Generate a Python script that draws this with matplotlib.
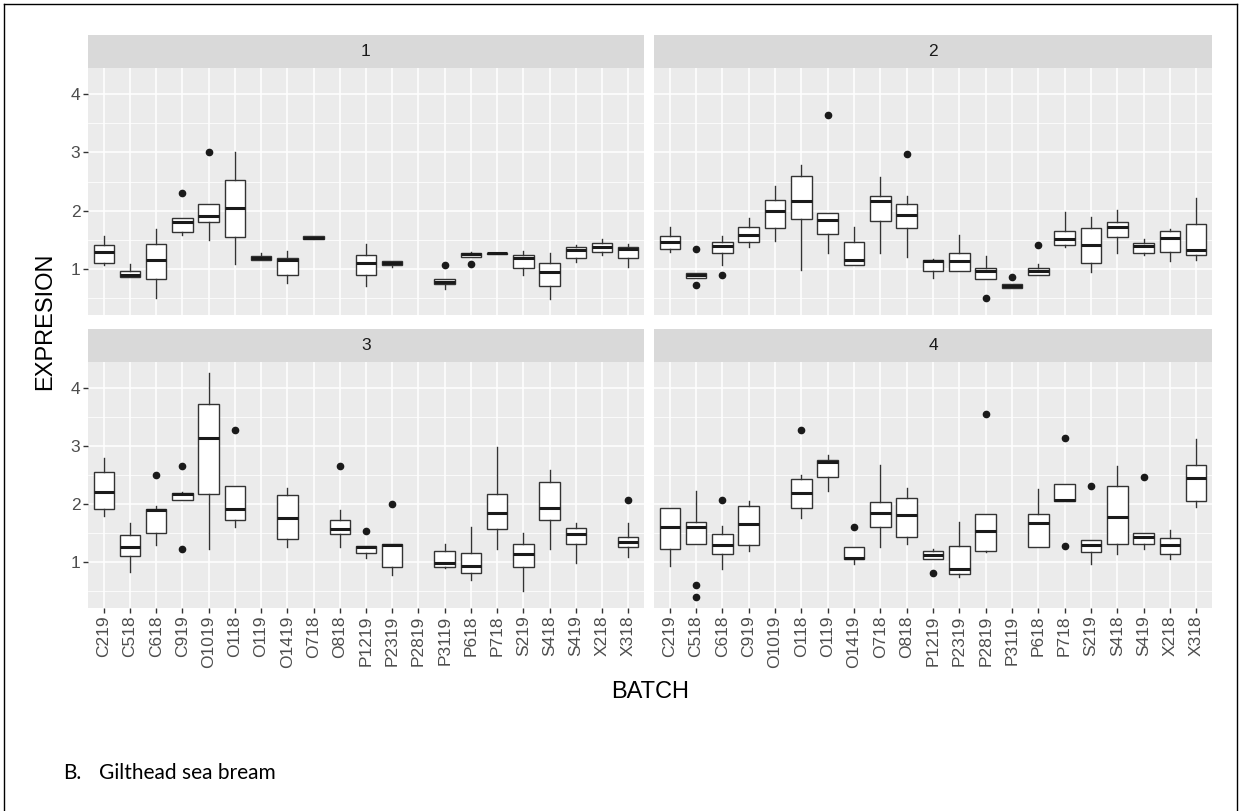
import matplotlib
matplotlib.use("Agg")
import matplotlib.pyplot as plt
from matplotlib.lines import Line2D

CATEGORIES = ["C219", "C518", "C618", "C919", "O1019", "O118", "O119", "O1419",
              "O718", "O818", "P1219", "P2319", "P2819", "P3119", "P618", "P718",
              "S219", "S418", "S419", "X218", "X318"]
PANELS = ["1", "2", "3", "4"]
Y_TICKS = [1, 2, 3, 4]

# Panel 1 : whisker low, Q1, median, Q3, whisker high (None = no data)
P1_LO  = [1.06, 0.86, 0.51, 1.58, 1.50, 1.08, 1.15, 0.76, 1.52, None, 0.71, 1.03, None, 0.65, 1.21, 1.25, 0.90, 0.49, 1.12, 1.24, 1.04]
P1_Q1  = [1.10, 0.86, 0.83, 1.64, 1.80, 1.55, 1.15, 0.90, 1.52, None, 0.90, 1.06, None, 0.74, 1.21, 1.25, 1.01, 0.70, 1.19, 1.29, 1.19]
P1_MED = [1.29, 0.90, 1.16, 1.80, 1.91, 2.04, 1.19, 1.16, 1.54, None, 1.10, 1.11, None, 0.77, 1.26, 1.27, 1.18, 0.94, 1.33, 1.37, 1.34]
P1_Q3  = [1.41, 0.97, 1.43, 1.87, 2.12, 2.53, 1.22, 1.18, 1.56, None, 1.24, 1.13, None, 0.82, 1.28, 1.28, 1.24, 1.11, 1.38, 1.45, 1.38]
P1_HI  = [1.56, 1.08, 1.69, 1.87, 2.12, 3.00, 1.27, 1.31, 1.56, None, 1.43, 1.14, None, 0.83, 1.30, 1.28, 1.31, 1.27, 1.41, 1.52, 1.43]
P1_OUT = [[], [], [], [2.30], [3.00], [], [], [], [], [], [], [], [], [1.06], [1.08], [], [], [], [], [], []]

# Panel 2
P2_LO  = [1.30, 0.84, 1.07, 1.38, 1.48, 0.98, 1.28, 1.06, 1.28, 1.21, 0.84, 0.97, 0.83, 0.67, 0.90, 1.37, 0.94, 1.28, 1.24, 1.14, 1.16]
P2_Q1  = [1.35, 0.84, 1.28, 1.46, 1.71, 1.85, 1.60, 1.06, 1.82, 1.71, 0.97, 0.97, 0.83, 0.67, 0.90, 1.42, 1.10, 1.55, 1.28, 1.30, 1.24]
P2_MED = [1.47, 0.89, 1.39, 1.59, 1.99, 2.16, 1.84, 1.16, 2.16, 1.93, 1.13, 1.14, 0.97, 0.71, 0.97, 1.52, 1.42, 1.72, 1.39, 1.54, 1.32]
P2_Q3  = [1.56, 0.93, 1.46, 1.72, 2.18, 2.60, 1.96, 1.47, 2.26, 2.12, 1.15, 1.27, 1.02, 0.75, 1.02, 1.65, 1.70, 1.81, 1.45, 1.65, 1.77]
P2_HI  = [1.72, 0.93, 1.56, 1.87, 2.42, 2.79, 1.96, 1.72, 2.58, 2.26, 1.17, 1.59, 1.22, 0.75, 1.08, 1.97, 1.90, 2.01, 1.51, 1.68, 2.21]
P2_OUT = [[], [1.35, 0.73], [0.90], [], [], [], [3.65], [], [], [2.97], [], [], [0.50], [0.86], [1.42], [], [], [], [], [], []]

# Panel 3
P3_LO  = [1.80, 0.83, 1.30, 2.07, 1.22, 1.61, None, 1.27, None, 1.26, 1.07, 0.78, None, 0.90, 0.69, 1.22, 0.51, 1.23, 0.98, None, 1.09]
P3_Q1  = [1.91, 1.10, 1.51, 2.07, 2.17, 1.72, None, 1.40, None, 1.48, 1.16, 0.92, None, 0.92, 0.82, 1.57, 0.92, 1.73, 1.32, None, 1.27]
P3_MED = [2.21, 1.27, 1.90, 2.17, 3.14, 1.91, None, 1.76, None, 1.57, 1.26, 1.29, None, 0.98, 0.93, 1.85, 1.14, 1.93, 1.48, None, 1.35]
P3_Q3  = [2.56, 1.47, 1.92, 2.19, 3.73, 2.31, None, 2.15, None, 1.72, 1.28, 1.31, None, 1.20, 1.15, 2.18, 1.31, 2.38, 1.59, None, 1.44]
P3_HI  = [2.79, 1.68, 1.97, 2.21, 4.26, 2.31, None, 2.28, None, 1.90, 1.28, 1.31, None, 1.31, 1.61, 2.99, 1.51, 2.58, 1.68, None, 1.67]
P3_OUT = [[], [], [2.51], [2.65, 1.22], [], [3.28], [], [], [], [2.66], [1.54], [2.01], [], [], [], [], [], [], [], [], [2.08]]

# Panel 4
P4_LO  = [0.93, 1.32, 0.89, 1.19, None, 1.76, 2.23, 0.96, 1.27, 1.32, 1.06, 0.74, 1.17, None, 1.26, 2.06, 0.96, 1.14, 1.23, 1.06, 1.95]
P4_Q1  = [1.22, 1.32, 1.14, 1.30, None, 1.94, 2.46, 1.06, 1.60, 1.44, 1.06, 0.80, 1.19, None, 1.27, 2.06, 1.17, 1.32, 1.32, 1.14, 2.05]
P4_MED = [1.61, 1.60, 1.30, 1.66, None, 2.20, 2.72, 1.07, 1.84, 1.81, 1.13, 0.89, 1.53, None, 1.68, 2.08, 1.29, 1.78, 1.43, 1.29, 2.45]
P4_Q3  = [1.93, 1.70, 1.49, 1.97, None, 2.44, 2.76, 1.26, 2.04, 2.10, 1.19, 1.28, 1.83, None, 1.83, 2.35, 1.38, 2.31, 1.51, 1.41, 2.68]
P4_HI  = [1.94, 2.22, 1.63, 2.06, None, 2.51, 2.84, 1.27, 2.68, 2.27, 1.23, 1.70, 1.83, None, 2.26, 2.35, 1.38, 2.65, 1.51, 1.56, 3.13]
P4_OUT = [[], [0.61, 0.40], [2.08], [], [], [3.28], [], [1.60], [], [], [0.81], [], [3.55], [], [], [3.14, 1.28], [2.31], [], [2.46], [], []]

DATA = [
    (P1_LO, P1_Q1, P1_MED, P1_Q3, P1_HI, P1_OUT),
    (P2_LO, P2_Q1, P2_MED, P2_Q3, P2_HI, P2_OUT),
    (P3_LO, P3_Q1, P3_MED, P3_Q3, P3_HI, P3_OUT),
    (P4_LO, P4_Q1, P4_MED, P4_Q3, P4_HI, P4_OUT),
]

W, H = 1242, 811
fig = plt.figure(figsize=(W / 100, H / 100), dpi=100)
fig.patch.set_facecolor("white")

SANS = ["Liberation Sans", "DejaVu Sans"]

def rect(x0, y0, x1, y1):
    return [x0 / W, 1 - y1 / H, (x1 - x0) / W, (y1 - y0) / H]

panel_boxes = [(88, 68, 644, 315), (654, 68, 1212, 315),
               (88, 362, 644, 608), (654, 362, 1212, 608)]
STRIP_H = 33

PANEL_BG = "#EBEBEB"
STRIP_BG = "#D9D9D9"
TICK_COL = "#4D4D4D"

for i, (box, d) in enumerate(zip(panel_boxes, DATA)):
    x0, y0, x1, y1 = box
    ax = fig.add_axes(rect(x0, y0, x1, y1))
    ax.set_facecolor(PANEL_BG)
    lo, q1, med, q3, hi, out = d
    stats, pos = [], []
    for j in range(len(CATEGORIES)):
        if med[j] is None:
            continue
        stats.append(dict(med=med[j], q1=q1[j], q3=q3[j], whislo=lo[j],
                          whishi=hi[j], fliers=out[j]))
        pos.append(j)
    ax.bxp(stats, positions=pos, widths=0.78, patch_artist=True,
           boxprops=dict(facecolor="white", edgecolor="#333333", linewidth=1.0),
           medianprops=dict(color="#1a1a1a", linewidth=2.2, solid_capstyle="butt"),
           whiskerprops=dict(color="#333333", linewidth=1.0),
           capprops=dict(linewidth=0),
           flierprops=dict(marker="o", markerfacecolor="#1a1a1a",
                           markeredgecolor="#1a1a1a", markersize=4.5),
           showcaps=False, zorder=3)
    ax.set_xlim(-0.6, len(CATEGORIES) - 0.4)
    ax.set_ylim(0.21, 4.45)
    ax.set_yticks(Y_TICKS)
    ax.set_yticks([0.5, 1.5, 2.5, 3.5], minor=True)
    ax.set_xticks(range(len(CATEGORIES)))
    ax.grid(which="major", color="white", linewidth=1.1, zorder=0)
    ax.grid(which="minor", axis="y", color="white", linewidth=0.55, zorder=0)
    ax.set_axisbelow(True)
    for s in ax.spines.values():
        s.set_visible(False)
    ax.tick_params(which="minor", length=0)
    if i >= 2:
        ax.set_xticklabels(CATEGORIES, rotation=90, fontsize=12.5,
                           color=TICK_COL, family=SANS)
        ax.tick_params(axis="x", length=3.5, width=1.0, color="#333333", pad=2)
    else:
        ax.tick_params(axis="x", length=0, labelbottom=False)
    if i % 2 == 0:
        ax.set_yticklabels([str(t) for t in Y_TICKS], fontsize=12.5,
                           color=TICK_COL, family=SANS)
        ax.tick_params(axis="y", length=3.5, width=1.0, color="#333333", pad=2)
    else:
        ax.tick_params(axis="y", length=0, labelleft=False)
    # strip
    sax = fig.add_axes(rect(x0, y0 - STRIP_H, x1, y0))
    sax.set_facecolor(STRIP_BG)
    sax.set_xticks([])
    sax.set_yticks([])
    for s in sax.spines.values():
        s.set_visible(False)
    sax.text(0.5, 0.5, PANELS[i], ha="center", va="center", fontsize=12.5,
             color="#1A1A1A", family=SANS, transform=sax.transAxes)

fig.text(650 / W, 1 - 692 / H, "BATCH", ha="center", va="center",
         fontsize=17, family=SANS, color="black")
fig.text(45 / W, 1 - 321 / H, "EXPRESION", ha="center", va="center",
         rotation=90, fontsize=17, family=SANS, color="black")
fig.text(63 / W, 1 - 773 / H, "B.", ha="left", va="center",
         fontsize=15, family=["Lato", "DejaVu Sans"], color="black")
fig.text(99 / W, 1 - 773 / H, "Gilthead sea bream", ha="left", va="center",
         fontsize=15, family=["Lato", "DejaVu Sans"], color="black")

# document frame
frame_x0, frame_y0, frame_x1 = 4, 4, 1237
fig.add_artist(Line2D([frame_x0 / W, frame_x0 / W], [0, 1 - frame_y0 / H],
                      transform=fig.transFigure, color="black", linewidth=1.0))
fig.add_artist(Line2D([frame_x0 / W, frame_x1 / W], [1 - frame_y0 / H, 1 - frame_y0 / H],
                      transform=fig.transFigure, color="black", linewidth=1.0))
fig.add_artist(Line2D([frame_x1 / W, frame_x1 / W], [0, 1 - frame_y0 / H],
                      transform=fig.transFigure, color="black", linewidth=1.0))

fig.savefig("out.png", dpi=100)
